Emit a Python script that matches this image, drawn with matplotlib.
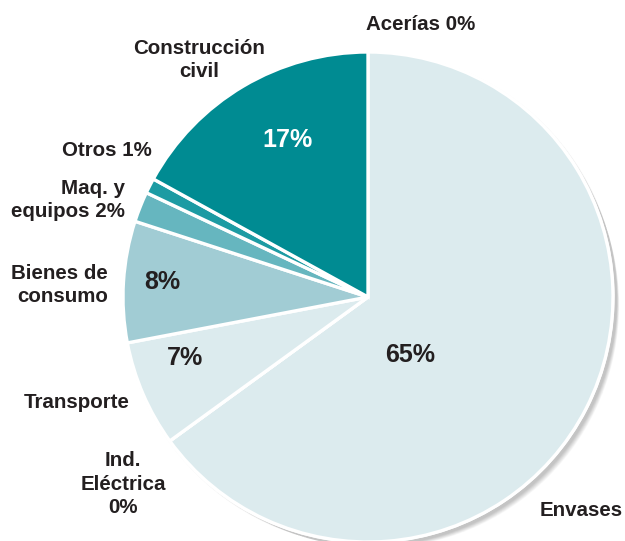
import matplotlib
matplotlib.use("Agg")
import matplotlib.pyplot as plt
from matplotlib.patches import Circle

categories = ["Acerías", "Envases", "Ind. Eléctrica", "Transporte",
              "Bienes de consumo", "Maq. y equipos", "Otros", "Construcción civil"]
values = [0, 65, 0, 7, 8, 2, 1, 17]
colors = ["#dcebee", "#dcebee", "#dcebee", "#dcebee",
          "#a1ccd4", "#66b6bf", "#1d9ba3", "#008b92"]

outer_labels = ["Acerías 0%", "Envases", "Ind.\nEléctrica\n0%", "Transporte",
                "Bienes de\nconsumo", "Maq. y\nequipos 2%", "Otros 1%", "Construcción\ncivil"]
outer_pos = [(421, 516), (581, 31), (123, 57), (77, 138),
             (108, 256), (125, 341), (152, 391), (199, 481)]
outer_ha = ["center", "center", "center", "center", "right", "right", "right", "center"]

pct_labels = ["65%", "7%", "8%", "17%"]
pct_pos = [(410, 186), (185, 183), (162, 259), (287, 401)]
pct_colors = ["#231f20", "#231f20", "#231f20", "white"]

W, H = 625, 541
fig = plt.figure(figsize=(W / 100, H / 100), dpi=100)
ax = fig.add_axes([0, 0, 1, 1])
ax.set_xlim(0, W)
ax.set_ylim(0, H)
ax.set_aspect("equal")
ax.axis("off")

cx, cy, R = 368, 244, 245

# soft shadow
for i in range(12):
    ax.add_patch(Circle((cx + 2 + i * 0.6, cy - 2 - i * 0.6), R + 2 - i * 0.4,
                        facecolor="black", alpha=0.018, edgecolor="none", zorder=0))
ax.add_patch(Circle((cx, cy), R + 1.5, facecolor="white", edgecolor="none", zorder=0.5))

ax.pie(values, colors=colors, startangle=90, counterclock=False,
       center=(cx, cy), radius=R, frame=True,
       wedgeprops=dict(edgecolor="white", linewidth=2.4))
ax.set_xlim(0, W)
ax.set_ylim(0, H)
ax.axis("off")

font = ["Liberation Sans", "DejaVu Sans"]
for lab, (x, y), ha in zip(outer_labels, outer_pos, outer_ha):
    ax.text(x, y, lab, ha=ha, va="center", fontsize=14.8, color="#231f20",
            family=font, weight="bold", linespacing=1.3,
            multialignment=ha)
for lab, (x, y), c in zip(pct_labels, pct_pos, pct_colors):
    ax.text(x, y, lab, ha="center", va="center", fontsize=18, color=c,
            family=font, weight="bold")

fig.savefig("out.png", dpi=100)
